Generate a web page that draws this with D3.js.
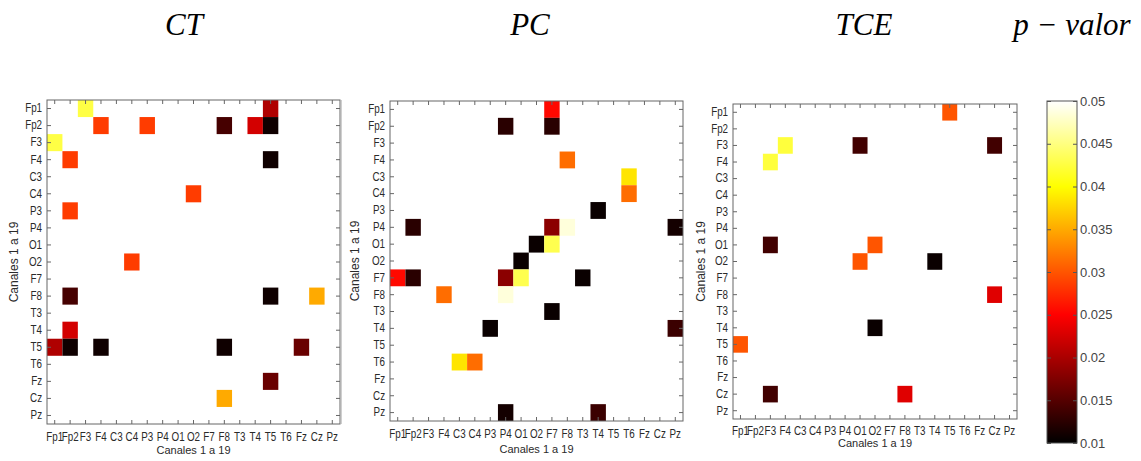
<!DOCTYPE html>
<html><head><meta charset="utf-8">
<script src="https://cdn.jsdelivr.net/npm/d3@7"></script>
<style>
body{margin:0;background:#fff}
.tick text{font-family:"Liberation Sans Narrow","Liberation Sans",Arial,sans-serif;}
</style>
</head><body>
<svg id="c" width="1141" height="461"></svg>
<script>
// ---------- data ----------
const channels = ["Fp1","Fp2","F3","F4","C3","C4","P3","P4","O1","O2","F7","F8","T3","T4","T5","T6","Fz","Cz","Pz"];
const panelTitles = ["CT","PC","TCE"];
const colorbarTitle = "p \u2212 valor";
const axisLabel = "Canales 1 a 19";
const colorbarTicks = [0.01,0.015,0.02,0.025,0.03,0.035,0.04,0.045,0.05];
const colorbarTickLabels = ["0.01","0.015","0.02","0.025","0.03","0.035","0.04","0.045","0.05"];
// [row, column, p-value]
const ctCells = [
 ["Fp1","F3",0.0427],["Fp1","T5",0.0203],
 ["Fp2","F4",0.0285],["Fp2","P3",0.0285],["Fp2","F8",0.0141],["Fp2","T4",0.0224],["Fp2","T5",0.0109],
 ["F3","Fp1",0.0427],
 ["F4","Fp2",0.0285],["F4","T5",0.0109],
 ["C4","O2",0.0285],
 ["P3","Fp2",0.0285],
 ["O2","C4",0.0285],
 ["F8","Fp2",0.0141],["F8","T5",0.0109],["F8","Cz",0.035],
 ["T4","Fp2",0.0224],
 ["T5","Fp1",0.0203],["T5","Fp2",0.0109],["T5","F4",0.0109],["T5","F8",0.0109],["T5","Fz",0.0162],
 ["Fz","T5",0.0162],
 ["Cz","F8",0.035]
];
const pcCells = [
 ["Fp1","F7",0.0255],
 ["Fp2","P4",0.0124],["Fp2","F7",0.0124],
 ["F4","F8",0.0314],
 ["C3","T6",0.0385],
 ["C4","T6",0.0314],
 ["P3","T4",0.0106],
 ["P4","Fp2",0.0124],["P4","F7",0.0182],["P4","F8",0.0486],["P4","Pz",0.0112],
 ["O1","O2",0.0106],["O1","F7",0.0431],
 ["O2","O1",0.0106],
 ["F7","Fp1",0.0255],["F7","Fp2",0.0124],["F7","P4",0.0182],["F7","O1",0.0431],["F7","T3",0.0106],
 ["F8","F4",0.0314],["F8","P4",0.0486],
 ["T3","F7",0.0106],
 ["T4","P3",0.0106],["T4","Pz",0.0135],
 ["T6","C3",0.0385],["T6","C4",0.0314],
 ["Pz","P4",0.0112],["Pz","T4",0.0135]
];
const tceCells = [
 ["Fp1","T5",0.030],
 ["F3","F4",0.0424],["F3","O1",0.0138],["F3","Cz",0.0138],
 ["F4","F3",0.0424],
 ["O1","F3",0.0138],["O1","O2",0.030],
 ["O2","O1",0.030],["O2","T4",0.0106],
 ["F8","Cz",0.0232],
 ["T4","O2",0.0106],
 ["T5","Fp1",0.030],
 ["Cz","F3",0.0138],["Cz","F8",0.0232]
];
const panelCells = [ctCells, pcCells, tceCells];

// ---------- layout ----------
const panels = [
 {x:47,  y:100, w:293, h:324, titleX:184, yLabX:15,  xTickPad:8, xLabY:451},
 {x:390, y:101, w:293, h:320, titleX:530, yLabX:356, xTickPad:8, xLabY:450},
 {x:733, y:104, w:284, h:315, titleX:864, yLabX:702, xTickPad:7, xLabY:444}
];
const cb = {x:1047, y:101, w:30, h:342};

const svg = d3.select("#c");
const frameColor = "#666";
const textColor = "#2a2a2a";

// MATLAB "hot" colormap
function hot(t){
  const c = v => Math.max(0, Math.min(1, v));
  const r = c(t/0.375), g = c((t-0.375)/0.375), b = c((t-0.75)/0.25);
  return d3.rgb(r*255, g*255, b*255).toString();
}
const color = d3.scaleSequential(hot).domain([0.01, 0.05]);

// thin grey image border between first two panels
svg.append("line").attr("x1",341.5).attr("x2",341.5).attr("y1",100).attr("y2",424)
   .attr("stroke","#cfcfcf").attr("stroke-width",1);

panels.forEach((p, i) => {
  const g = svg.append("g").attr("transform", `translate(${p.x},${p.y})`);
  const x = d3.scaleBand().domain(channels).range([0, p.w]);
  const y = d3.scaleBand().domain(channels).range([0, p.h]);

  g.selectAll("rect.cell").data(panelCells[i]).join("rect")
    .attr("class","cell")
    .attr("x", d => x(d[1])).attr("y", d => y(d[0]))
    .attr("width", x.bandwidth()).attr("height", y.bandwidth())
    .attr("fill", d => color(d[2]));

  const styleAxis = sel => {
    sel.select(".domain").remove();
    sel.selectAll(".tick line").attr("stroke", frameColor);
    sel.selectAll(".tick text").attr("fill", textColor).attr("font-size", 12)
      .attr("transform", "scale(0.82,1)");
  };
  g.append("g").attr("transform", `translate(0,${p.h})`)
    .call(d3.axisBottom(x).tickSize(-4).tickPadding(p.xTickPad)).call(styleAxis);
  g.append("g").call(d3.axisTop(x).tickSize(-4).tickFormat("")).call(styleAxis);
  g.append("g").call(d3.axisLeft(y).tickSize(-4).tickPadding(6)).call(styleAxis);
  g.append("g").attr("transform", `translate(${p.w},0)`)
    .call(d3.axisRight(y).tickSize(-4).tickFormat("")).call(styleAxis);

  g.append("rect").attr("width", p.w).attr("height", p.h)
    .attr("fill","none").attr("stroke", frameColor).attr("stroke-width",1);

  svg.append("text").attr("x", p.x + p.w/2).attr("y", p.xLabY)
    .attr("text-anchor","middle").attr("dominant-baseline","middle")
    .attr("font-family","Liberation Sans, Arial, sans-serif").attr("font-size",11)
    .attr("fill", textColor).text(axisLabel);
  svg.append("text").attr("transform", `translate(${p.yLabX},${p.y + p.h/2}) rotate(-90)`)
    .attr("text-anchor","middle").attr("dominant-baseline","middle")
    .attr("font-family","Liberation Sans, Arial, sans-serif").attr("font-size",12)
    .attr("fill", textColor).text(axisLabel);

  svg.append("text").attr("x", p.titleX).attr("y", 35)
    .attr("text-anchor","middle")
    .attr("font-family","Liberation Serif, serif").attr("font-style","italic").attr("font-size",31)
    .attr("fill","#000").text(panelTitles[i]);
});

svg.append("text").attr("x", 1072).attr("y", 35)
  .attr("text-anchor","middle")
  .attr("font-family","Liberation Serif, serif").attr("font-style","italic").attr("font-size",31)
  .attr("fill","#000").text(colorbarTitle);

// ---------- colorbar ----------
const defs = svg.append("defs");
const grad = defs.append("linearGradient").attr("id","hotgrad")
  .attr("x1","0").attr("y1","1").attr("x2","0").attr("y2","0");
d3.range(0, 1.0001, 0.025).forEach(t => {
  grad.append("stop").attr("offset", t).attr("stop-color", hot(t));
});
const cy = d3.scaleLinear().domain([0.01, 0.05]).range([cb.y + cb.h, cb.y]);
svg.append("rect").attr("x", cb.x).attr("y", cb.y).attr("width", cb.w).attr("height", cb.h)
  .attr("fill","url(#hotgrad)");
const cbAxisR = svg.append("g").attr("transform", `translate(${cb.x + cb.w},0)`)
  .call(d3.axisRight(cy).tickValues(colorbarTicks).tickSize(-4).tickPadding(3)
        .tickFormat((d,i) => colorbarTickLabels[i]));
cbAxisR.select(".domain").remove();
cbAxisR.selectAll(".tick line").attr("stroke","#555");
cbAxisR.selectAll(".tick text").attr("fill","#444").attr("font-size",13)
  .attr("font-family","Liberation Sans, Arial, sans-serif");
const cbAxisL = svg.append("g").attr("transform", `translate(${cb.x},0)`)
  .call(d3.axisLeft(cy).tickValues(colorbarTicks).tickSize(-4).tickFormat(""));
cbAxisL.select(".domain").remove();
cbAxisL.selectAll(".tick line").attr("stroke","#555");
svg.append("rect").attr("x", cb.x).attr("y", cb.y).attr("width", cb.w).attr("height", cb.h)
  .attr("fill","none").attr("stroke","#555").attr("stroke-width",1);
</script>
</body></html>
